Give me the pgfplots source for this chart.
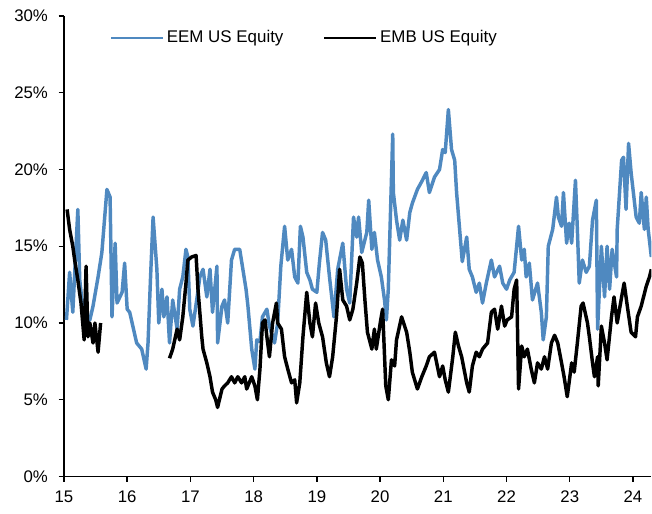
\documentclass[border=0pt]{standalone}
\usepackage{pgfplots}
\pgfplotsset{compat=1.18}
\usepackage{fontspec}
\setmainfont{Liberation Sans}
\definecolor{eemblue}{RGB}{79,137,192}
\begin{document}
\begin{tikzpicture}
\begin{axis}[
  scale only axis,
  width=441pt, height=345.75pt,
  xmin=15, xmax=24.29, ymin=0, ymax=30,
  axis x line*=bottom, axis y line*=left,
  axis line style={line width=1pt, black},
  tick align=outside,
  major tick length=4pt,
  tick style={line width=1pt, black},
  xtick={15,16,17,18,19,20,21,22,23,24},
  ytick={0,5,10,15,20,25,30},
  yticklabel={\pgfmathprintnumber{\tick}\%},
  /pgf/number format/assume math mode=true,
  tick label style={font=\fontsize{12.6}{14}\selectfont},
  yticklabel style={xshift=-4.5pt},
  xticklabel style={yshift=-3pt},
  unbounded coords=jump,
  legend columns=2,
  legend style={draw=none, fill=none, at={(0.41,0.953)}, anchor=center,
    font=\fontsize{12.7}{14}\selectfont,
    /tikz/every even column/.append style={column sep=28pt}},
  legend cell align=left,
  legend image code/.code={\draw[#1, line width=1.6pt] (0pt,0pt) -- (39pt,0pt);},
]
\addplot[eemblue, line width=2.6pt, line join=round] coordinates {
(15.04,10.2) (15.09,13.3) (15.14,10.7) (15.22,17.4) (15.25,12.8) (15.30,10.9)
(15.41,10.2) (15.46,11.1) (15.54,13.0) (15.60,14.6) (15.68,18.7) (15.73,18.2)
(15.76,10.4) (15.81,15.2) (15.84,11.3) (15.92,12.0) (15.96,13.9) (16.00,10.9)
(16.04,10.7) (16.15,8.7) (16.23,8.3) (16.30,7.0) (16.33,8.7) (16.37,13.0)
(16.41,16.9) (16.47,13.5) (16.50,10.0) (16.55,12.2) (16.58,10.4) (16.63,11.7)
(16.67,8.7) (16.72,11.5) (16.79,9.6) (16.83,12.2) (16.88,13.0) (16.93,14.8)
(16.96,14.3) (16.99,10.9) (17.04,9.8) (17.10,11.5) (17.15,13.0) (17.20,13.5)
(17.26,11.7) (17.31,13.5) (17.35,10.7) (17.42,13.7) (17.43,8.7) (17.50,11.1)
(17.54,11.5) (17.59,10.0) (17.65,14.1) (17.70,14.8) (17.78,14.8) (17.83,13.5)
(17.88,12.2) (17.91,11.1) (17.97,8.3) (18.02,7.0) (18.05,8.9) (18.10,8.8)
(18.14,10.4) (18.21,10.9) (18.25,9.8) (18.33,8.7) (18.38,10.0) (18.43,13.7)
(18.49,16.3) (18.54,14.1) (18.60,14.8) (18.65,13.0) (18.70,12.6) (18.74,16.3)
(18.78,15.6) (18.84,13.3) (18.89,12.8) (18.93,12.2) (19.00,12.0) (19.04,13.9)
(19.09,15.9) (19.14,15.4) (19.20,13.0) (19.27,10.4) (19.33,13.5) (19.41,15.2)
(19.47,12.2) (19.52,11.3) (19.58,16.9) (19.63,15.6) (19.66,16.9) (19.71,14.6)
(19.79,15.9) (19.82,18.0) (19.87,14.8) (19.91,15.9) (19.96,14.1) (20.02,13.0)
(20.07,11.5) (20.10,10.2) (20.13,12.2) (20.20,22.3) (20.21,18.5) (20.26,16.7)
(20.31,15.4) (20.36,16.7) (20.42,15.4) (20.47,17.2) (20.51,17.8) (20.59,18.7)
(20.67,19.3) (20.73,19.8) (20.78,18.5) (20.86,19.5) (20.94,20.0) (20.99,21.3)
(21.03,21.1) (21.08,23.9) (21.13,21.3) (21.18,20.6) (21.21,18.5) (21.26,16.0)
(21.30,14.0) (21.37,15.6) (21.41,13.5) (21.46,13.0) (21.52,12.0) (21.57,12.6)
(21.62,11.3) (21.68,12.6) (21.76,14.1) (21.81,13.0) (21.89,13.7) (21.94,12.6)
(22.00,12.2) (22.05,12.8) (22.12,13.3) (22.19,16.3) (22.24,14.1) (22.28,14.8)
(22.31,13.0) (22.36,13.9) (22.41,11.5) (22.49,12.6) (22.55,10.7) (22.58,8.9)
(22.63,10.4) (22.66,15.0) (22.73,16.1) (22.79,18.2) (22.82,16.9) (22.87,16.3)
(22.90,18.5) (22.95,15.2) (22.99,16.5) (23.03,15.2) (23.09,19.3) (23.12,16.1)
(23.15,12.6) (23.20,14.1) (23.26,13.3) (23.31,13.7) (23.36,16.7) (23.42,18.0)
(23.44,9.6) (23.50,15.0) (23.55,11.7) (23.59,15.0) (23.63,12.2) (23.67,14.8)
(23.74,13.0) (23.75,16.1) (23.82,20.6) (23.85,20.8) (23.89,17.4) (23.93,21.7)
(23.97,19.8) (24.05,16.9) (24.10,16.5) (24.13,18.5) (24.18,16.1) (24.21,18.2)
(24.24,16.1) (24.29,14.3)
};
\addlegendentry{EEM US Equity}
\addplot[black, line width=2.6pt, line join=round] coordinates {
(15.05,17.4) (15.09,16.1) (15.14,15.0) (15.17,14.1) (15.22,12.8) (15.27,11.3)
(15.32,8.9) (15.35,13.7) (15.38,9.1) (15.41,10.0) (15.46,8.7) (15.49,10.0)
(15.54,8.1) (15.58,10.0)
(16.1,nan)
(16.67,7.7) (16.72,8.3) (16.79,9.6) (16.83,8.9) (16.88,10.4) (16.93,12.6)
(16.96,14.1) (17.02,14.3) (17.09,14.4) (17.12,12.2) (17.18,9.1) (17.20,8.3)
(17.26,7.4) (17.31,6.5) (17.35,5.5) (17.40,5.0) (17.43,4.5) (17.50,5.7)
(17.54,5.9) (17.59,6.1) (17.65,6.5) (17.70,6.1) (17.75,6.5) (17.81,6.1)
(17.86,6.5) (17.89,5.7) (17.97,6.5) (18.02,5.9) (18.06,5.0) (18.10,7.0)
(18.14,10.0) (18.18,10.2) (18.21,9.1) (18.25,7.8) (18.30,10.0) (18.36,11.3)
(18.38,10.0) (18.44,9.6) (18.49,7.8) (18.54,7.0) (18.60,6.1) (18.65,6.3)
(18.68,4.8) (18.73,6.1) (18.78,9.1) (18.84,12.0) (18.89,10.0) (18.93,9.1)
(18.98,11.3) (19.03,10.0) (19.09,9.1) (19.15,7.4) (19.20,6.5) (19.25,7.8)
(19.31,10.4) (19.36,13.5) (19.41,11.5) (19.47,11.1) (19.52,10.2) (19.57,10.9)
(19.63,12.6) (19.68,14.3) (19.72,13.9) (19.76,11.5) (19.80,9.4) (19.87,8.3)
(19.91,9.6) (19.94,8.3) (20.01,10.2) (20.04,10.9) (20.09,5.9) (20.13,5.0)
(20.18,7.6) (20.23,7.2) (20.26,8.9) (20.34,10.4) (20.42,9.4) (20.47,8.1)
(20.51,6.8) (20.59,5.7) (20.66,6.5) (20.73,7.2) (20.78,7.8) (20.86,8.1)
(20.94,6.5) (20.99,7.2) (21.03,6.3) (21.08,5.5) (21.15,7.8) (21.19,9.4)
(21.24,8.5) (21.29,7.8) (21.37,6.1) (21.41,5.5) (21.46,7.2) (21.52,8.1)
(21.57,7.8) (21.62,8.3) (21.70,8.7) (21.76,10.7) (21.81,10.9) (21.86,9.6)
(21.92,11.1) (21.97,9.8) (22.01,10.2) (22.08,10.4) (22.12,12.2) (22.16,12.8)
(22.19,5.7) (22.24,8.5) (22.28,7.8) (22.33,8.3) (22.39,7.0) (22.44,6.1)
(22.49,7.4) (22.55,7.0) (22.60,7.8) (22.65,7.0) (22.71,8.7) (22.76,9.2)
(22.81,8.7) (22.87,7.4) (22.91,6.5) (22.96,5.2) (23.03,7.4) (23.07,6.8)
(23.12,8.7) (23.18,11.1) (23.21,11.3) (23.28,10.0) (23.31,9.1) (23.36,7.4)
(23.39,6.5) (23.44,7.8) (23.45,5.9) (23.50,9.8) (23.55,8.7) (23.59,7.6)
(23.66,10.4) (23.70,11.7) (23.75,10.0) (23.82,11.7) (23.86,12.6) (23.91,11.1)
(23.97,9.4) (24.04,9.1) (24.07,10.4) (24.13,11.1) (24.21,12.4) (24.26,13.0)
(24.29,13.5)
};
\addlegendentry{EMB US Equity}
\end{axis}
\path ([xshift=-48pt,yshift=-27.75pt]current axis.south west) rectangle ([yshift=12pt]current axis.north east);
\end{tikzpicture}
\end{document}
